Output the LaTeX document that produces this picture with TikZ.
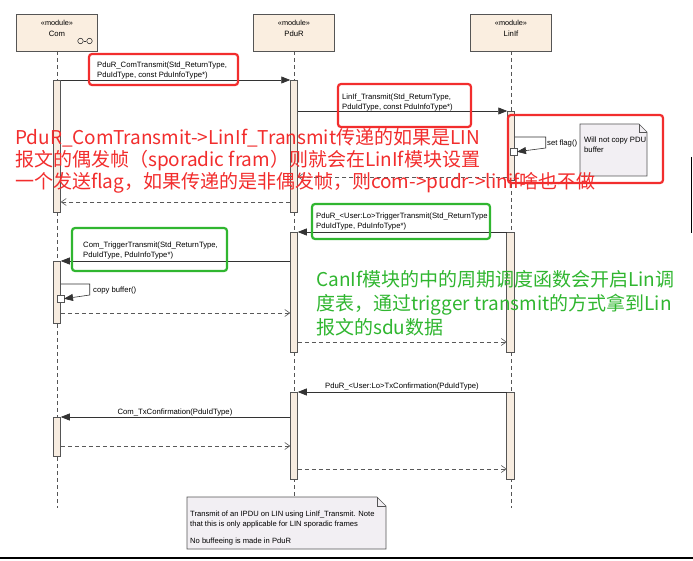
\documentclass[tikz,border=0pt]{standalone}
\usepackage{fontspec}
\setmainfont{Liberation Sans}
\newfontfamily\cjk{Noto Sans CJK SC}
\usetikzlibrary{arrows.meta}
\definecolor{hdrfill}{RGB}{250,238,224}
\definecolor{actfill}{RGB}{247,236,224}
\definecolor{notefill}{RGB}{242,239,243}
\definecolor{edgegray}{RGB}{85,85,85}
\definecolor{annred}{RGB}{242,45,45}
\definecolor{anngreen}{RGB}{48,182,48}
\begin{document}
\begin{tikzpicture}[x=1pt,y=-1pt,
  hdr/.style={draw=edgegray, fill=hdrfill, line width=0.8pt, minimum width=81pt, minimum height=37pt, inner sep=0pt, outer sep=0pt},
  act/.style={draw=edgegray, fill=actfill, line width=0.6pt, minimum width=7.5pt, inner sep=0pt, outer sep=0pt, anchor=north},
  small/.style={draw=edgegray, fill=white, line width=0.6pt, minimum width=7pt, minimum height=7.5pt, inner sep=0pt, outer sep=0pt, anchor=north west},
  life/.style={draw=edgegray, line width=0.6pt, dash pattern=on 4pt off 3pt},
  msg/.style={draw=black!80, line width=0.6pt, -{Triangle[length=9pt,width=7pt]}},
  ret/.style={draw=black!65, line width=0.6pt, dash pattern=on 4pt off 3pt, -{Straight Barb[length=5pt,width=7pt]}},
  lbl/.style={font=\fontsize{7.7}{10}\selectfont, inner sep=0pt, align=left, anchor=north west},
  txt/.style={font=\fontsize{7.7}{10}\selectfont, inner sep=0pt},
  redbox/.style={draw=annred, line width=2.2pt, rounded corners=3pt},
  greenbox/.style={draw=anngreen, line width=2.2pt, rounded corners=3pt},
  notebox/.style={draw=edgegray, fill=notefill, line width=0.6pt},
]
\useasboundingbox (0,0) rectangle (693,561);
\fill[white] (0,0) rectangle (693,561);

% headers
\node[hdr] (com) at (57,32.5) {};
\node[hdr] (pdur) at (294,32.5) {};
\node[hdr] (linif) at (511,32.5) {};
\foreach \n/\t in {com/Com, pdur/PduR, linif/LinIf}{
  \node[txt, font=\fontsize{7.3}{9}\selectfont] (\n st) at ([yshift=-8.5pt]\n.north) {«module»};
  \node[txt] (\n nm) at ([yshift=-20pt]\n.north) {\t};
}
% subsystem icon
\node[draw=black!80, circle, minimum size=5.5pt, inner sep=0pt, line width=0.6pt] (ic1) at (80.5,41) {};
\node[draw=black!80, circle, minimum size=5.5pt, inner sep=0pt, line width=0.6pt] (ic2) at (89.5,41) {};
\draw[black!80, line width=0.6pt] (ic1) -- (ic2);

% lifeline ends
\coordinate (comEnd) at (57,508);
\coordinate (pdurEnd) at (294,497);
\coordinate (linEnd) at (511,508);
\draw[life] (com.south) -- (comEnd);
\draw[life] (pdur.south) -- (pdurEnd);
\draw[life] (linif.south) -- (linEnd);

% activations
\node[act, minimum height=132pt] (comA1) at (57,80) {};
\node[act, minimum height=132pt] (pduA1) at (294,80) {};
\node[act, minimum height=69pt] (linA1) at (511,111) {};
\node[act, minimum height=120pt] (pduA2) at (294,232) {};
\node[act, minimum height=120pt] (linA2) at (510.5,232) {};
\node[act, minimum height=62pt] (comA2) at (57,261) {};
\node[act, minimum height=87pt] (pduA3) at (294,392) {};
\node[act, minimum height=87pt] (linA3) at (510.5,392) {};
\node[act, minimum height=39pt] (comA3) at (57,417) {};
\node[small] (linS) at (510,148) {};
\node[small] (comS) at (57,295) {};

% helper levels
\coordinate (y177) at (0,177);
\coordinate (y202) at (0,202);
\coordinate (y137) at (0,137);
\coordinate (y284) at (0,284);
\coordinate (y313) at (0,313);
\coordinate (y342) at (0,342);
\coordinate (y446) at (0,446);
\coordinate (y469) at (0,469);

% section 1
\draw[msg] (comA1.north east) -- (pduA1.north west);
\draw[msg] (pduA1.east |- linA1.north) -- (linA1.north west);
\draw[msg] (linA1.east |- y137) -- ++(31,0) -- ++(0,11) -- (linS.east);
\draw[ret] (linA1.west |- y177) -- (pduA1.east |- y177);
\draw[ret] (pduA1.west |- y202) -- (comA1.east |- y202);

% section 2
\draw[msg] (linA2.north west) -- (pduA2.north east);
\draw[msg] (pduA2.west |- comA2.north) -- (comA2.north east);
\draw[msg] (comA2.east |- y284) -- ++(29,0) -- ++(0,11) -- (comS.east);
\draw[ret] (comA2.east |- y313) -- (pduA2.west |- y313);
\draw[ret] (pduA2.east |- y342) -- (linA2.west |- y342);

% section 3
\draw[msg] (linA3.north west) -- (pduA3.north east);
\draw[msg] (pduA3.west |- comA3.north) -- (comA3.north east);
\draw[ret] (comA3.east |- y446) -- (pduA3.west |- y446);
\draw[ret] (pduA3.east |- y469) -- (linA3.west |- y469);

% labels
\node[lbl] (l1) at (97,61.5) {PduR\_ComTransmit(Std\_ReturnType,\\PduIdType, const PduInfoType*)};
\node[lbl] (l2) at (342,93.5) {LinIf\_Transmit(Std\_ReturnType,\\PduIdType, const PduInfoType*)};
\node[txt, anchor=west] (l3) at (547,144) {set flag()};
\node[lbl] (l4) at (316,212.5) {PduR\_<User:Lo>TriggerTransmit(Std\_ReturnType\\PduIdType, PduInfoType*)};
\node[lbl] (l5) at (83,241.5) {Com\_TriggerTransmit(Std\_ReturnType,\\PduIdType, PduInfoType*)};
\node[txt, anchor=west] (l6) at (93,291) {copy buffer()};
\node[txt] (l7) at (402,386.5) {PduR\_<User:Lo>TxConfirmation(PduIdType)};
\node[txt] (l8) at (175,413) {Com\_TxConfirmation(PduIdType)};

% note 1
\draw[notebox] (580,124) -- (639,124) -- (647,132) -- (647,176) -- (580,176) -- cycle;
\draw[edgegray, line width=0.6pt] (639,124) -- (639,132) -- (647,132);
\node[lbl] (n1) at (584,136.5) {Will not copy PDU\\buffer};

% note 2
\draw[notebox] (187,497) -- (377,497) -- (386,506) -- (386,549) -- (187,549) -- cycle;
\draw[edgegray, line width=0.6pt] (377,497) -- (377,506) -- (386,506);
\node[lbl, font=\fontsize{7.6}{9.5}\selectfont] (n2) at (190,511) {Transmit of an IPDU on LIN using LinIf\_Transmit. Note\\that this is only applicable for LIN sporadic frames\\[8pt]No buffeeing is made in PduR};

% annotation boxes
\draw[redbox] (89,54) rectangle (238,85);
\draw[redbox] (338,84) rectangle (471,127);
\draw[redbox] (508,115) rectangle (663,183);
\draw[greenbox] (312,204) rectangle (490,239);
\draw[greenbox] (72,228) rectangle (227,271);

% annotation texts
\node[anchor=west, inner sep=0pt, align=left, text=annred, font=\cjk\fontsize{19}{22}\selectfont] (redtxt) at (15,161) {PduR\_ComTransmit->LinIf\_Transmit传递的如果是LIN\\报文的偶发帧（sporadic fram）则就会在LinIf模块设置\\一个发送flag，如果传递的是非偶发帧，则com->pudr->linif啥也不做};
\node[anchor=west, inner sep=0pt, align=left, text=anngreen, font=\cjk\fontsize{19}{24}\selectfont] (greentxt) at (316,303) {CanIf模块的中的周期调度函数会开启Lin调\\度表，通过trigger transmit的方式拿到Lin\\报文的sdu数据};

% frame lines
\draw[black, line width=1.5pt] (0,558) -- (693,558);
\draw[black, line width=1.2pt] (691.5,157) -- (691.5,233);
\end{tikzpicture}
\end{document}
